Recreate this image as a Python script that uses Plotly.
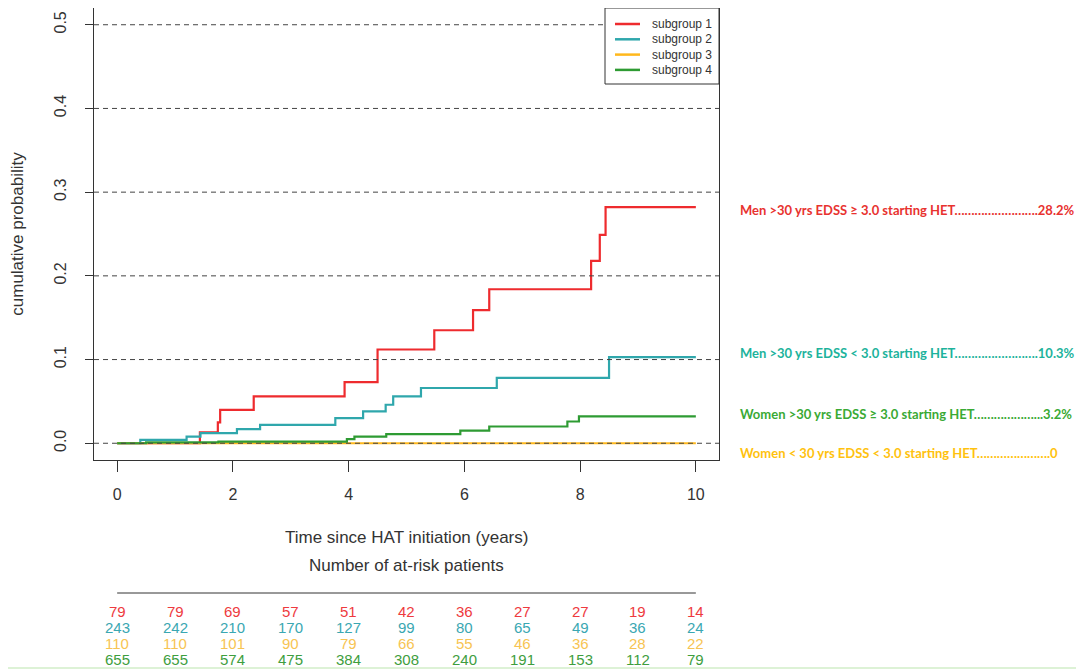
import plotly.graph_objects as go

# ---- data ----
series_names = ["subgroup 1", "subgroup 2", "subgroup 3", "subgroup 4"]
series_colors = ["#EE2B2E", "#2FA7AC", "#FFB81C", "#2E9B33"]

t1 = [0, 1.43, 1.74, 1.78, 2.36, 3.93, 4.50, 5.48, 6.15, 6.43, 8.19, 8.34, 8.44, 10]
p1 = [0, 0.013, 0.025, 0.040, 0.056, 0.073, 0.112, 0.135, 0.159, 0.184, 0.218, 0.249, 0.282, 0.282]

t2 = [0, 0.40, 1.20, 1.44, 2.07, 2.47, 3.77, 4.25, 4.64, 4.77, 5.25, 6.56, 8.50, 10]
p2 = [0, 0.004, 0.008, 0.012, 0.017, 0.022, 0.030, 0.038, 0.046, 0.056, 0.066, 0.078, 0.103, 0.103]

t3 = [0, 10]
p3 = [0, 0]

t4 = [0, 0.50, 1.75, 3.97, 4.10, 4.65, 5.93, 6.43, 7.78, 7.98, 10]
p4 = [0, 0.001, 0.002, 0.005, 0.008, 0.011, 0.015, 0.020, 0.026, 0.032, 0.032]

x_ticks = [0, 2, 4, 6, 8, 10]
y_ticks = [0.0, 0.1, 0.2, 0.3, 0.4, 0.5]
y_tick_labels = ["0.0", "0.1", "0.2", "0.3", "0.4", "0.5"]

risk_times = [0, 1, 2, 3, 4, 5, 6, 7, 8, 9, 10]
risk_1 = [79, 79, 69, 57, 51, 42, 36, 27, 27, 19, 14]
risk_2 = [243, 242, 210, 170, 127, 99, 80, 65, 49, 36, 24]
risk_3 = [110, 110, 101, 90, 79, 66, 55, 46, 36, 28, 22]
risk_4 = [655, 655, 574, 475, 384, 308, 240, 191, 153, 112, 79]
risk_colors = ["#EE3A3E", "#3AA7B2", "#F7C453", "#3E9E3E"]

side_labels = [
    "Men >30 yrs EDSS \u2265 3.0 starting HET\u2026\u2026\u2026\u2026\u2026\u2026\u2026\u2026.28.2%",
    "Men >30 yrs EDSS < 3.0 starting HET\u2026\u2026\u2026\u2026\u2026\u2026\u2026\u2026.10.3%",
    "Women >30 yrs EDSS \u2265 3.0 starting HET\u2026\u2026\u2026\u2026\u2026\u2026...3.2%",
    "Women < 30 yrs EDSS < 3.0 starting HET\u2026\u2026\u2026\u2026\u2026\u2026\u2026.0",
]
side_colors = ["#E8322F", "#1DB39C", "#3AAA35", "#FFC20E"]
side_values = [p1[-1], p2[-1], p4[-1], p3[-1]]
side_yshift = [-3, 4, 2, -10]

# ---- figure ----
fig = go.Figure()
for t, p, name, col in zip([t1, t2, t3, t4], [p1, p2, p3, p4], series_names, series_colors):
    fig.add_trace(go.Scatter(x=t, y=p, mode="lines", line=dict(color=col, width=2.2, shape="hv"),
                             name=name, showlegend=False))

# dashed horizontal reference lines
for yv in y_ticks:
    fig.add_shape(type="line", xref="paper", x0=0, x1=1, yref="y", y0=yv, y1=yv,
                  line=dict(color="#444444", width=1, dash="5px,4px"), layer="above")

annotations = []
# axis texts
annotations.append(dict(text="Time since HAT initiation (years)", xref="paper", yref="paper",
                        x=0.5, y=0, yshift=-77, yanchor="middle", showarrow=False,
                        font=dict(size=17, color="#333333", family="Liberation Sans")))
annotations.append(dict(text="Number of at-risk patients", xref="paper", yref="paper",
                        x=0.5, y=0, yshift=-105, yanchor="middle", showarrow=False,
                        font=dict(size=17, color="#333333", family="Liberation Sans")))

# risk table
for row, (vals, col) in enumerate(zip([risk_1, risk_2, risk_3, risk_4], risk_colors)):
    for tt, v in zip(risk_times, vals):
        annotations.append(dict(text=str(v), xref="x", yref="paper", x=tt, y=0,
                                yshift=-151 - 16 * row, yanchor="middle", showarrow=False,
                                font=dict(size=15, color=col, family="Liberation Sans")))

# side labels
for lab, col, yv, ys in zip(side_labels, side_colors, side_values, side_yshift):
    annotations.append(dict(text="<b>" + lab + "</b>", xref="paper", yref="y", x=1, xshift=19,
                            xanchor="left", y=yv, yshift=ys, yanchor="middle", showarrow=False,
                            font=dict(size=13, color=col, family="Lato")))

fig.add_shape(type="line", xref="x", x0=risk_times[0], x1=risk_times[-1], yref="paper",
              ysizemode="pixel", yanchor=0, y0=-133, y1=-133,
              line=dict(color="#333333", width=1))
fig.add_shape(type="line", xref="paper", x0=-0.14, x1=1.6, yref="paper",
              ysizemode="pixel", yanchor=0, y0=-208, y1=-208,
              line=dict(color="#DDF2D6", width=2))

# legend box (drawn manually to match spacing)
fig.add_shape(type="rect", xref="paper", xsizemode="pixel", xanchor=1, x0=-114, x1=0,
              yref="paper", ysizemode="pixel", yanchor=1, y0=0, y1=-76,
              line=dict(color="#333333", width=1), fillcolor="white", layer="above")
for i, (name, col) in enumerate(zip(series_names, series_colors)):
    dy = -16 - 15.3 * i
    fig.add_shape(type="line", xref="paper", xsizemode="pixel", xanchor=1, x0=-104, x1=-79,
                  yref="paper", ysizemode="pixel", yanchor=1, y0=dy, y1=dy,
                  line=dict(color=col, width=2.5), layer="above")
    annotations.append(dict(text=name, xref="paper", yref="paper", x=1, xshift=-69,
                            xanchor="left", y=1, yshift=dy, yanchor="middle", showarrow=False,
                            font=dict(size=12, color="#333333", family="Liberation Sans")))

fig.update_layout(
    width=1084, height=669,
    margin=dict(l=86, r=373, t=0, b=217),
    paper_bgcolor="white", plot_bgcolor="white",
    font=dict(family="Liberation Sans", color="#333333"),
    showlegend=False,
    annotations=annotations,
    xaxis=dict(range=[-0.4, 10.4], tickvals=x_ticks, ticks="outside", ticklen=11,
               tickcolor="#333333", showgrid=False, zeroline=False, showline=True,
               linecolor="#333333", mirror=True, tickfont=dict(size=16, color="#333333"),
               ticklabelstandoff=9),
    yaxis=dict(range=[-0.02, 0.52], tickvals=y_ticks, ticktext=y_tick_labels, ticks="outside",
               ticklen=8, tickcolor="#333333", showgrid=False, zeroline=False, showline=True,
               linecolor="#333333", mirror=True, tickangle=-90,
               tickfont=dict(size=16, color="#333333"), ticklabelstandoff=13,
               title=dict(text="cumulative probability", font=dict(size=17, color="#333333"),
                          standoff=25)),
)

fig.write_html("out.html")
